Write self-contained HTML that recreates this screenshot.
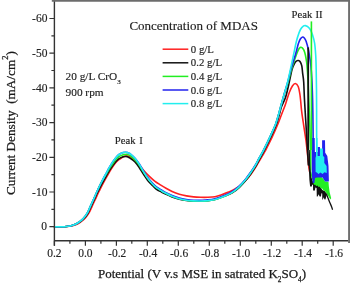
<!DOCTYPE html>
<html><head><meta charset="utf-8"><style>
html,body{margin:0;padding:0;background:#fff;width:350px;height:284px;overflow:hidden;}
svg{display:block;font-family:"Liberation Serif",serif;}
text{filter:grayscale(1);stroke:#222;stroke-width:0.15px;}
</style></head><body>
<svg width="350" height="284" viewBox="0 0 350 284">
<rect width="350" height="284" fill="#fff"/>
<g fill="none" stroke-width="1.6" stroke-linejoin="round" stroke-linecap="round">
<path stroke="#ff2020" d="M54.4 226.8 C55.3 226.8 58.2 226.8 60.0 226.8 C61.8 226.8 63.4 226.8 65.0 226.7 C66.6 226.6 68.1 226.5 69.5 226.3 C70.9 226.2 72.2 226.0 73.5 225.6 C74.8 225.2 76.2 224.7 77.5 224.0 C78.8 223.3 80.2 222.4 81.5 221.4 C82.8 220.4 84.0 219.4 85.3 217.9 C86.6 216.4 88.1 214.3 89.3 212.3 C90.5 210.3 91.3 207.9 92.3 205.8 C93.3 203.7 94.2 201.9 95.3 199.5 C96.4 197.1 97.6 194.3 99.0 191.5 C100.4 188.7 102.0 185.3 103.5 182.5 C105.0 179.7 106.6 176.9 108.0 174.5 C109.4 172.1 110.5 170.1 111.7 168.3 C112.9 166.5 113.9 164.9 115.0 163.5 C116.1 162.1 117.3 161.0 118.5 160.0 C119.7 159.0 121.0 158.1 122.0 157.5 C123.0 156.9 123.8 156.5 124.5 156.2 C125.2 155.9 125.8 155.8 126.5 155.9 C127.2 156.0 128.2 156.2 129.0 156.5 C129.8 156.8 130.5 157.2 131.5 157.9 C132.5 158.6 133.7 159.3 135.0 160.5 C136.3 161.7 138.1 163.7 139.5 165.3 C140.9 166.9 141.9 168.5 143.5 170.3 C145.1 172.1 147.2 174.3 149.1 176.1 C151.0 177.9 152.8 179.6 154.7 181.1 C156.6 182.6 158.5 183.7 160.4 184.9 C162.3 186.1 164.1 187.2 166.0 188.3 C167.9 189.4 169.9 190.5 172.1 191.5 C174.3 192.5 176.9 193.5 179.3 194.2 C181.7 194.9 184.0 195.4 186.4 195.9 C188.8 196.4 191.2 196.7 193.6 196.9 C196.0 197.1 198.3 197.2 200.7 197.3 C203.1 197.4 205.5 197.4 207.9 197.3 C210.3 197.2 212.8 197.1 215.0 196.7 C217.2 196.3 218.7 195.8 221.0 195.0 C223.3 194.2 226.3 193.1 228.6 192.1 C230.9 191.1 232.9 190.3 235.0 189.0 C237.1 187.7 239.1 186.5 241.4 184.5 C243.7 182.5 246.4 179.6 248.6 177.1 C250.8 174.6 252.7 171.7 254.3 169.3 C255.9 166.9 256.8 165.1 258.2 162.8 C259.6 160.5 261.4 157.4 262.5 155.5 C263.6 153.6 263.9 153.4 265.1 151.2 C266.3 148.9 268.2 145.3 269.8 142.0 C271.4 138.7 273.3 134.5 274.6 131.6 C275.9 128.7 276.7 126.9 277.7 124.5 C278.7 122.1 279.7 119.4 280.6 117.0 C281.5 114.6 282.4 112.3 283.3 110.0 C284.2 107.7 284.9 105.9 285.9 102.9 C286.9 100.0 288.3 95.1 289.4 92.3 C290.5 89.5 291.4 87.5 292.4 86.0 C293.4 84.5 294.3 83.4 295.3 83.5 C296.3 83.6 297.4 84.6 298.2 86.5 C299.0 88.4 299.4 91.1 300.0 95.0 C300.6 98.9 301.0 105.5 301.5 110.0 C302.0 114.5 302.6 118.0 303.2 122.0 C303.8 126.0 304.4 130.2 305.0 134.0 C305.6 137.8 306.1 141.3 306.5 145.0 C306.9 148.7 307.3 152.5 307.7 156.0 C308.1 159.5 308.4 163.3 308.7 166.0 C309.0 168.7 309.5 171.0 309.7 172.0"/>
<path stroke="#111111" d="M54.4 226.8 C55.3 226.8 58.4 226.8 60.0 226.8 C61.6 226.8 62.7 226.8 64.0 226.7 C65.3 226.6 66.7 226.5 68.0 226.3 C69.3 226.2 70.7 226.0 72.0 225.6 C73.3 225.2 74.7 224.7 76.0 224.1 C77.3 223.5 78.7 222.8 80.0 221.9 C81.3 221.0 82.4 220.2 83.7 218.8 C85.0 217.4 86.6 215.5 87.7 213.6 C88.8 211.7 89.6 209.4 90.6 207.3 C91.6 205.2 92.4 203.5 93.5 201.2 C94.6 198.9 95.7 196.2 97.0 193.5 C98.3 190.7 99.8 187.6 101.3 184.8 C102.8 182.1 104.4 179.2 105.8 176.8 C107.2 174.4 108.3 172.3 109.5 170.4 C110.7 168.6 111.7 167.0 112.7 165.6 C113.8 164.1 114.8 162.9 115.8 161.7 C116.8 160.6 117.8 159.4 119.0 158.6 C120.2 157.8 122.1 157.2 123.2 156.8 C124.3 156.5 124.8 156.5 125.5 156.5 C126.2 156.5 126.8 156.6 127.5 156.8 C128.2 157.1 128.8 157.3 130.0 158.1 C131.2 158.9 133.4 160.2 135.0 161.9 C136.6 163.6 138.1 165.9 139.5 168.0 C140.9 170.1 142.1 172.4 143.5 174.4 C144.9 176.5 146.3 178.6 147.7 180.4 C149.1 182.1 150.5 183.5 151.9 184.9 C153.3 186.4 154.4 187.8 156.1 189.0 C157.8 190.2 160.3 191.4 161.8 192.2 C163.3 193.0 163.3 193.0 165.0 193.8 C166.7 194.6 169.7 196.0 172.1 196.9 C174.5 197.8 176.9 198.6 179.3 199.2 C181.7 199.8 184.0 200.2 186.4 200.5 C188.8 200.8 191.2 201.0 193.6 201.1 C196.0 201.1 198.3 201.1 200.7 201.0 C203.1 200.9 205.5 200.8 207.9 200.6 C210.3 200.3 212.3 200.2 215.0 199.5 C217.7 198.8 221.4 197.3 224.3 196.2 C227.2 195.1 229.7 194.4 232.2 192.9 C234.7 191.4 237.0 189.5 239.4 187.3 C241.8 185.1 244.4 182.2 246.5 179.6 C248.6 177.0 250.5 174.1 252.2 171.6 C253.9 169.1 255.2 167.0 256.5 164.8 C257.8 162.6 258.6 160.7 259.8 158.5 C261.0 156.3 262.1 154.6 263.5 151.9 C264.9 149.2 266.6 145.7 268.2 142.4 C269.8 139.1 271.6 135.1 273.0 132.1 C274.4 129.1 275.3 127.1 276.3 124.5 C277.3 121.9 277.9 119.4 278.8 116.5 C279.7 113.6 280.3 110.2 281.4 107.0 C282.5 103.8 284.3 101.1 285.5 97.5 C286.7 93.9 287.5 89.9 288.6 85.2 C289.7 80.5 291.1 73.1 292.1 69.4 C293.1 65.7 294.0 64.6 294.7 63.2 C295.4 61.8 295.9 61.5 296.5 61.0 C297.1 60.5 297.6 60.4 298.2 60.5 C298.8 60.6 299.4 60.6 300.0 61.5 C300.6 62.4 301.4 63.9 301.8 65.8 C302.2 67.7 302.3 70.2 302.6 72.9 C302.9 75.6 303.4 77.5 303.7 82.0 C304.0 86.5 304.1 92.8 304.5 100.0 C304.9 107.2 305.5 116.7 306.0 125.0 C306.5 133.3 307.1 143.3 307.5 150.0 C307.9 156.7 308.2 162.5 308.4 165.0"/>
<path stroke="#22ee22" d="M54.4 226.8 C55.3 226.8 58.4 226.8 60.0 226.8 C61.6 226.8 62.7 226.8 64.0 226.7 C65.3 226.6 66.7 226.5 68.0 226.3 C69.3 226.2 70.7 226.0 72.0 225.6 C73.3 225.2 74.7 224.7 76.0 224.0 C77.3 223.3 78.7 222.4 80.0 221.4 C81.3 220.4 82.4 219.4 83.7 217.9 C85.0 216.4 86.6 214.3 87.7 212.3 C88.8 210.3 89.6 207.9 90.6 205.8 C91.6 203.7 92.4 201.9 93.5 199.5 C94.6 197.1 95.7 194.3 97.0 191.5 C98.3 188.7 99.8 185.5 101.3 182.7 C102.8 179.9 104.4 177.2 105.8 174.9 C107.2 172.5 108.3 170.5 109.5 168.6 C110.7 166.8 111.7 165.2 112.7 163.7 C113.8 162.2 114.8 160.8 115.8 159.6 C116.8 158.4 117.8 157.3 119.0 156.5 C120.2 155.7 122.1 155.1 123.2 154.7 C124.3 154.4 124.8 154.4 125.5 154.4 C126.2 154.3 126.8 154.4 127.5 154.6 C128.2 154.8 128.8 154.7 130.0 155.6 C131.2 156.5 133.4 158.3 135.0 160.0 C136.6 161.6 138.1 163.6 139.5 165.6 C140.9 167.6 142.1 169.9 143.5 172.0 C144.9 174.1 146.3 176.3 147.7 178.2 C149.1 180.1 150.5 181.7 151.9 183.2 C153.3 184.7 154.4 186.1 156.1 187.4 C157.8 188.7 160.3 190.1 161.8 191.0 C163.3 191.9 163.3 191.9 165.0 192.8 C166.7 193.7 169.7 195.2 172.1 196.2 C174.5 197.2 176.9 198.0 179.3 198.7 C181.7 199.4 184.0 199.8 186.4 200.2 C188.8 200.6 191.2 200.8 193.6 200.9 C196.0 201.0 198.3 201.1 200.7 201.0 C203.1 200.9 205.5 200.8 207.9 200.6 C210.3 200.3 212.3 200.2 215.0 199.5 C217.7 198.8 221.6 197.3 224.3 196.2 C227.0 195.1 229.0 194.4 231.4 192.9 C233.8 191.4 236.2 189.5 238.6 187.3 C241.0 185.1 243.6 182.2 245.7 179.6 C247.8 177.0 249.7 174.1 251.4 171.6 C253.1 169.1 254.4 167.0 255.7 164.8 C257.0 162.6 257.8 160.7 259.0 158.5 C260.2 156.3 261.3 154.6 262.7 151.9 C264.1 149.2 265.8 145.7 267.4 142.4 C269.0 139.1 270.8 135.1 272.2 132.1 C273.6 129.1 274.5 127.1 275.5 124.5 C276.5 121.9 277.1 119.4 278.0 116.5 C278.9 113.6 279.6 110.7 280.6 107.0 C281.6 103.3 282.9 98.5 284.1 94.5 C285.3 90.5 286.7 86.8 287.8 83.0 C288.9 79.2 289.8 75.5 290.8 72.0 C291.8 68.5 292.9 64.9 293.8 62.0 C294.8 59.1 295.7 56.6 296.5 54.5 C297.3 52.4 297.8 50.7 298.5 49.5 C299.2 48.3 299.9 47.6 300.5 47.3 C301.1 47.0 301.7 47.3 302.3 47.8 C302.9 48.3 303.5 49.2 304.0 50.4 C304.5 51.6 305.0 53.1 305.4 55.0 C305.8 56.9 306.2 59.2 306.6 62.0 C307.0 64.8 307.2 68.2 307.5 72.0 C307.8 75.8 308.0 80.3 308.2 85.0 C308.4 89.7 308.5 93.3 308.8 100.0 C309.1 106.7 309.5 116.7 309.8 125.0 C310.1 133.3 310.4 142.5 310.5 150.0 C310.6 157.5 310.6 166.7 310.6 170.0"/>
<path stroke="#2222ee" d="M54.4 226.8 C55.3 226.8 58.4 226.8 60.0 226.8 C61.6 226.8 62.7 226.8 64.0 226.7 C65.3 226.6 66.7 226.5 68.0 226.3 C69.3 226.2 70.7 226.0 72.0 225.6 C73.3 225.2 74.7 224.7 76.0 224.0 C77.3 223.3 78.7 222.4 80.0 221.4 C81.3 220.4 82.4 219.4 83.7 217.9 C85.0 216.4 86.6 214.3 87.7 212.3 C88.8 210.3 89.6 207.9 90.6 205.8 C91.6 203.7 92.4 201.9 93.5 199.5 C94.6 197.1 95.7 194.3 97.0 191.5 C98.3 188.7 99.8 185.4 101.3 182.5 C102.8 179.6 104.4 176.6 105.8 174.0 C107.2 171.4 108.3 169.2 109.5 167.2 C110.7 165.2 111.7 163.5 112.7 161.9 C113.8 160.3 114.8 158.9 115.8 157.7 C116.8 156.5 117.8 155.3 119.0 154.5 C120.2 153.7 122.1 153.0 123.2 152.6 C124.3 152.2 124.8 152.2 125.5 152.2 C126.2 152.2 126.8 152.2 127.5 152.5 C128.2 152.8 128.8 152.7 130.0 153.7 C131.2 154.7 133.4 156.5 135.0 158.3 C136.6 160.1 138.1 162.2 139.5 164.3 C140.9 166.4 142.1 168.8 143.5 171.0 C144.9 173.2 146.3 175.6 147.7 177.5 C149.1 179.4 150.5 181.0 151.9 182.5 C153.3 184.0 154.4 185.4 156.1 186.7 C157.8 188.0 160.3 189.4 161.8 190.3 C163.3 191.2 163.3 191.2 165.0 192.1 C166.7 193.0 169.7 194.5 172.1 195.5 C174.5 196.5 176.9 197.3 179.3 198.0 C181.7 198.7 184.0 199.1 186.4 199.5 C188.8 199.9 191.2 200.1 193.6 200.2 C196.0 200.3 198.3 200.4 200.7 200.3 C203.1 200.2 205.5 200.2 207.9 199.9 C210.3 199.7 212.3 199.5 215.0 198.8 C217.7 198.1 221.6 196.6 224.3 195.5 C227.0 194.4 229.0 193.7 231.4 192.2 C233.8 190.7 236.2 188.8 238.6 186.6 C241.0 184.4 243.6 181.5 245.7 178.9 C247.8 176.3 249.7 173.5 251.4 171.1 C253.1 168.7 254.4 166.7 255.7 164.5 C257.0 162.4 257.8 160.5 259.0 158.4 C260.2 156.3 261.3 154.6 262.7 151.9 C264.1 149.2 265.8 145.7 267.4 142.4 C269.0 139.1 270.8 135.1 272.2 132.1 C273.6 129.1 274.5 127.1 275.5 124.5 C276.5 121.9 277.1 119.4 278.0 116.5 C278.9 113.6 279.6 110.7 280.6 107.0 C281.6 103.3 282.9 98.8 284.1 94.5 C285.3 90.2 286.8 85.5 288.0 81.0 C289.2 76.5 290.2 72.0 291.5 67.5 C292.8 63.0 294.5 58.0 295.6 54.0 C296.8 50.0 297.6 46.0 298.4 43.5 C299.2 41.0 299.8 39.9 300.5 38.8 C301.2 37.7 301.9 37.1 302.6 37.0 C303.3 36.9 303.9 37.5 304.5 38.2 C305.1 38.9 305.5 39.5 306.1 41.3 C306.7 43.1 307.6 46.3 308.2 48.8 C308.8 51.2 309.1 53.3 309.5 56.0 C309.9 58.7 310.4 61.0 310.8 65.0 C311.2 69.0 311.6 74.2 311.9 80.0 C312.2 85.8 312.4 92.5 312.6 100.0 C312.8 107.5 312.9 116.7 313.0 125.0 C313.1 133.3 313.2 145.8 313.2 150.0"/>
<path stroke="#22eeee" d="M54.4 226.8 C55.3 226.8 58.4 226.8 60.0 226.8 C61.6 226.8 62.7 226.8 64.0 226.7 C65.3 226.6 66.7 226.5 68.0 226.3 C69.3 226.2 70.7 226.0 72.0 225.6 C73.3 225.2 74.7 224.7 76.0 224.0 C77.3 223.3 78.7 222.4 80.0 221.4 C81.3 220.4 82.4 219.4 83.7 217.9 C85.0 216.4 86.6 214.3 87.7 212.3 C88.8 210.3 89.6 207.9 90.6 205.8 C91.6 203.7 92.4 201.9 93.5 199.5 C94.6 197.1 95.7 194.3 97.0 191.5 C98.3 188.7 99.8 185.4 101.3 182.5 C102.8 179.6 104.4 176.6 105.8 174.0 C107.2 171.4 108.3 169.2 109.5 167.2 C110.7 165.2 111.7 163.5 112.7 161.9 C113.8 160.3 114.8 158.9 115.8 157.7 C116.8 156.5 117.8 155.3 119.0 154.5 C120.2 153.7 122.1 153.0 123.2 152.6 C124.3 152.2 124.8 152.2 125.5 152.2 C126.2 152.2 126.8 152.2 127.5 152.5 C128.2 152.8 128.8 152.7 130.0 153.7 C131.2 154.7 133.4 156.5 135.0 158.3 C136.6 160.1 138.1 162.4 139.5 164.6 C140.9 166.8 142.1 169.3 143.5 171.6 C144.9 173.9 146.3 176.3 147.7 178.2 C149.1 180.1 150.5 181.7 151.9 183.2 C153.3 184.7 154.4 186.1 156.1 187.4 C157.8 188.7 160.3 190.1 161.8 191.0 C163.3 191.9 163.3 191.9 165.0 192.8 C166.7 193.7 169.7 195.2 172.1 196.2 C174.5 197.2 176.9 198.0 179.3 198.7 C181.7 199.4 184.0 199.8 186.4 200.2 C188.8 200.6 191.2 200.8 193.6 200.9 C196.0 201.0 198.3 201.1 200.7 201.0 C203.1 200.9 205.5 200.8 207.9 200.6 C210.3 200.3 212.3 200.2 215.0 199.5 C217.7 198.8 221.6 197.3 224.3 196.2 C227.0 195.1 229.0 194.4 231.4 192.9 C233.8 191.4 236.2 189.5 238.6 187.3 C241.0 185.1 243.6 182.2 245.7 179.6 C247.8 177.0 249.7 174.1 251.4 171.6 C253.1 169.1 254.4 167.0 255.7 164.8 C257.0 162.6 257.8 160.7 259.0 158.5 C260.2 156.3 261.3 154.6 262.7 151.9 C264.1 149.2 265.8 145.7 267.4 142.4 C269.0 139.1 270.8 135.1 272.2 132.1 C273.6 129.1 274.5 127.1 275.5 124.5 C276.5 121.9 277.1 119.4 278.0 116.5 C278.9 113.6 279.6 110.7 280.6 107.0 C281.6 103.3 282.9 98.7 284.1 94.5 C285.3 90.3 286.6 86.1 287.6 82.0 C288.6 77.9 289.3 74.5 290.3 70.0 C291.3 65.5 292.5 59.7 293.5 55.0 C294.5 50.3 295.4 45.5 296.3 41.8 C297.2 38.1 298.2 35.0 299.1 32.6 C300.0 30.2 300.8 28.6 301.9 27.4 C302.9 26.2 304.1 25.4 305.4 25.6 C306.7 25.8 308.4 26.9 309.6 28.4 C310.8 29.9 311.7 32.2 312.5 34.7 C313.3 37.2 314.1 39.8 314.6 43.2 C315.1 46.6 315.4 50.5 315.7 55.0 C316.0 59.5 316.1 64.2 316.2 70.0 C316.3 75.8 316.4 81.7 316.5 90.0 C316.6 98.3 316.6 110.0 316.6 120.0 C316.6 130.0 316.7 145.0 316.7 150.0"/>
</g>
<g stroke="none">
<path fill="#111111" d="M308.3 150.0 L309.8 150.0 L310.6 168.0 L311.4 177.0 L312.6 181.0 L314.9 183.0 L316.0 184.0 L318.0 185.0 L319.5 186.0 L321.0 188.0 L322.3 190.0 L325.4 191.5 L326.8 195.0 L326.2 196.8 L325.4 199.4 L324.6 199.4 L323.6 197.2 L322.9 199.4 L322.3 199.4 L322.2 193.5 L321.4 193.2 L321.0 196.6 L319.6 196.6 L318.6 194.2 L317.6 196.6 L316.8 196.6 L316.6 188.0 L315.4 187.6 L314.9 190.4 L313.1 190.4 L313.0 185.0 L312.2 184.6 L311.8 186.4 L310.1 186.4 L309.4 180.0 L308.8 168.0 Z"/>
<path fill="#22ee22" d="M309.9 150.0 L311.3 150.0 L311.3 171.0 L312.5 178.0 L314.0 177.0 L315.5 175.0 L317.0 176.5 L318.5 174.6 L320.0 176.0 L322.0 177.4 L323.5 179.0 L325.0 181.6 L327.0 181.6 L328.5 182.0 L328.8 186.0 L329.6 192.0 L331.2 198.2 L330.2 199.5 L328.6 196.6 L327.2 194.5 L326.0 192.5 L325.0 191.0 L323.5 190.5 L322.2 188.5 L321.0 188.5 L319.8 186.5 L318.5 187.0 L317.5 185.5 L316.2 186.0 L315.0 184.5 L314.0 185.0 L313.0 182.0 L312.2 179.0 L311.0 176.0 Z"/>
<path fill="#2222ee" d="M311.7 138.0 L314.7 138.0 L314.9 152.0 L317.7 152.0 L317.7 146.9 L319.9 146.9 L320.5 152.0 L322.1 150.0 L322.1 140.2 L325.0 140.2 L325.2 152.8 L327.3 156.0 L328.5 166.0 L328.9 181.4 L325.0 181.6 L322.6 177.4 L317.0 177.4 L315.0 178.0 L314.4 183.0 L312.7 183.0 L311.9 176.0 Z"/>
<path fill="#22eeee" d="M316.0 138.0 L317.5 138.0 L317.7 156.0 L319.9 156.0 L319.9 148.4 L322.8 148.4 L323.0 156.0 L324.3 157.0 L324.3 163.0 L326.6 166.0 L326.8 173.0 L324.5 172.2 L322.5 174.0 L320.5 172.5 L318.5 174.0 L316.8 172.5 L315.6 172.0 L315.5 158.0 L316.0 156.0 Z"/>
</g>
<path fill="none" stroke="#111" stroke-width="1.3" d="M326.2 193.5 C326.5 194.2 327.4 196.4 328.0 198.0 C328.6 199.6 329.4 201.6 330.0 203.0 C330.6 204.4 331.1 205.4 331.5 206.5 C331.9 207.6 332.4 209.2 332.6 209.8"/>
<path fill="none" stroke="#22ee22" stroke-width="1.6" d="M311.4 21.4 V150"/>
<path fill="none" stroke="#111" stroke-width="1.8" d="M308.2 47.4 V150"/>
<path fill="none" stroke="#333" stroke-width="1.4" d="M54.4 0.6 V245.8 M53.7 240.8 H348.5"/>
<path fill="none" stroke="#6e6e6e" stroke-width="2" d="M349.1 0 V243"/>
<path fill="none" stroke="#6c6c6c" stroke-width="1.9" d="M51.8 0.8 H349.3"/>
<path fill="none" stroke="#333" stroke-width="1.2" d="M54.4 240.8 V245.8 M69.9 240.8 V243.8 M85.4 240.8 V245.8 M100.9 240.8 V243.8 M116.4 240.8 V245.8 M131.8 240.8 V243.8 M147.3 240.8 V245.8 M162.8 240.8 V243.8 M178.3 240.8 V245.8 M193.8 240.8 V243.8 M209.3 240.8 V245.8 M224.8 240.8 V243.8 M240.3 240.8 V245.8 M255.8 240.8 V243.8 M271.3 240.8 V245.8 M286.8 240.8 V243.8 M302.2 240.8 V245.8 M317.7 240.8 V243.8 M333.2 240.8 V245.8 M54.4 226.7 H49.4 M54.4 209.3 H51.4 M54.4 192.0 H49.4 M54.4 174.7 H51.4 M54.4 157.3 H49.4 M54.4 139.9 H51.4 M54.4 122.6 H49.4 M54.4 105.2 H51.4 M54.4 87.9 H49.4 M54.4 70.5 H51.4 M54.4 53.2 H49.4 M54.4 35.8 H51.4 M54.4 18.5 H49.4"/>
<g font-family="Liberation Serif" font-size="11.5" fill="#222" text-anchor="middle">
<text x="54.4" y="257.3">0.2</text>
<text x="85.4" y="257.3">0.0</text>
<text x="117.2" y="257.3">-0.2</text>
<text x="148.1" y="257.3">-0.4</text>
<text x="179.1" y="257.3">-0.6</text>
<text x="210.1" y="257.3">-0.8</text>
<text x="241.1" y="257.3">-1.0</text>
<text x="272.1" y="257.3">-1.2</text>
<text x="303.0" y="257.3">-1.4</text>
<text x="334.0" y="257.3">-1.6</text>
</g>
<g font-family="Liberation Serif" font-size="11.5" fill="#222" text-anchor="end">
<text x="47.0" y="230.4">0</text>
<text x="47.4" y="195.7">-10</text>
<text x="47.4" y="161.0">-20</text>
<text x="47.4" y="126.3">-30</text>
<text x="47.4" y="91.6">-40</text>
<text x="47.4" y="56.9">-50</text>
<text x="47.4" y="22.2">-60</text>
</g>
<text font-family="Liberation Serif" font-size="13" fill="#1a1a1a" style="stroke:#1a1a1a;stroke-width:0.25px" x="98" y="277.6">Potential (V v.s MSE in satrated K<tspan font-size="7.2" dy="4.6">2</tspan><tspan dy="-4.6">SO</tspan><tspan font-size="7.2" dy="4.6">4</tspan><tspan dy="-4.6">)</tspan></text>
<text xml:space="preserve" font-family="Liberation Serif" font-size="13.2" fill="#1a1a1a" style="stroke:#1a1a1a;stroke-width:0.25px" transform="translate(14.6 195) rotate(-90)" x="0" y="0">Current Density  (mA/cm<tspan font-size="8.5" dy="-6.5">2</tspan><tspan dy="6.5">)</tspan></text>
<text font-family="Liberation Serif" font-size="13" fill="#222" x="129.4" y="29.6">Concentration of MDAS</text>
<path stroke="#ff2020" stroke-width="1.5" d="M162.6 49.2 H188.3"/>
<text font-family="Liberation Serif" font-size="10.8" fill="#222" x="190.8" y="52.7">0 g/L</text>
<path stroke="#111111" stroke-width="1.5" d="M162.6 62.8 H188.3"/>
<text font-family="Liberation Serif" font-size="10.8" fill="#222" x="190.8" y="66.3">0.2 g/L</text>
<path stroke="#22ee22" stroke-width="1.5" d="M162.6 76.4 H188.3"/>
<text font-family="Liberation Serif" font-size="10.8" fill="#222" x="190.8" y="79.9">0.4 g/L</text>
<path stroke="#2222ee" stroke-width="1.5" d="M162.6 90.0 H188.3"/>
<text font-family="Liberation Serif" font-size="10.8" fill="#222" x="190.8" y="93.5">0.6 g/L</text>
<path stroke="#22eeee" stroke-width="1.5" d="M162.6 103.6 H188.3"/>
<text font-family="Liberation Serif" font-size="10.8" fill="#222" x="190.8" y="107.1">0.8 g/L</text>
<text font-family="Liberation Serif" font-size="11.3" fill="#222" x="65.6" y="80">20 g/L CrO<tspan font-size="7" dy="3.8">3</tspan></text>
<text font-family="Liberation Serif" font-size="11.3" fill="#222" x="65.6" y="96.4">900 rpm</text>
<text font-family="Liberation Serif" font-size="10.7" fill="#222" x="114.8" y="144" word-spacing="1">Peak I</text>
<text font-family="Liberation Serif" font-size="10.7" fill="#222" x="291.6" y="18" word-spacing="0.5">Peak II</text>
</svg>
</body></html>
